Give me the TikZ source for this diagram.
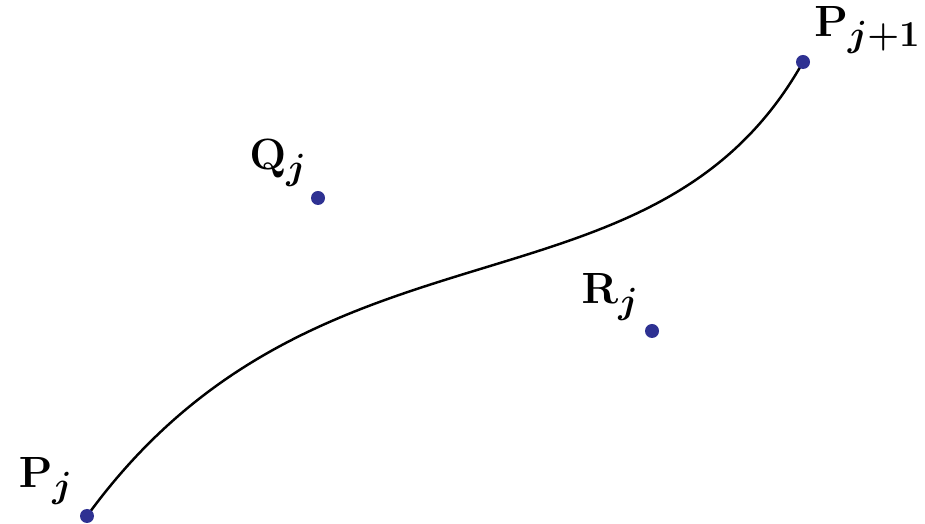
\documentclass[tikz,border=0pt]{standalone}
\usepackage{amsmath,bm}
\usetikzlibrary{positioning}
\definecolor{ptB}{RGB}{46,49,146}

\begin{document}
\begin{tikzpicture}[dot/.style={circle,fill=ptB,inner sep=0pt,minimum size=0.28cm},
  lab/.style={font=\Huge,inner sep=1pt}]
\useasboundingbox (0,0) rectangle (18.5,10.48);
\coordinate (P0) at (1.74,0.16);
\coordinate (Q) at (6.36,6.52);
\coordinate (R) at (13.04,3.86);
\coordinate (P1) at (16.06,9.24);
\draw[line width=1.4pt] (P0) .. controls (Q) and (R) .. (P1);
\node[dot] (dP0) at (P0) {};
\node[dot] (dQ) at (Q) {};
\node[dot] (dR) at (R) {};
\node[dot] (dP1) at (P1) {};
\node[lab,above left=0.08cm and 0.14cm of dP0] (lP0) {$\mathbf{P}_{\bm{j}}$};
\node[lab,above left=0.08cm and 0.08cm of dQ] (lQ) {$\mathbf{Q}_{\bm{j}}$};
\node[lab,above left=0.06cm and 0.12cm of dR] (lR) {$\mathbf{R}_{\bm{j}}$};
\node[lab,above right=0.02cm and 0.08cm of dP1] (lP1) {$\mathbf{P}_{\bm{j+1}}$};
\end{tikzpicture}
\end{document}
